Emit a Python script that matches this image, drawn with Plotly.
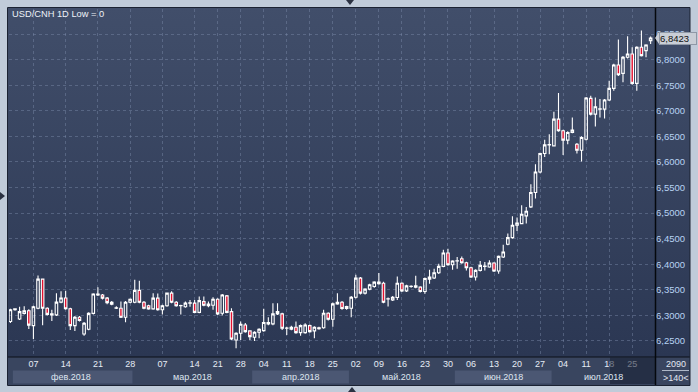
import base64
import plotly.graph_objects as go
import pandas as pd

# ---------------- data ----------------
title_text = "USD/CNH 1D Low = 0"

dates = (list(pd.date_range("2018-02-02", "2018-03-14", freq="D").strftime("%Y-%m-%d"))
         + list(pd.bdate_range("2018-03-15", "2018-07-31").strftime("%Y-%m-%d")))

open_ = [6.288, 6.311, 6.293, 6.304, 6.309, 6.280, 6.314, 6.371, 6.314, 6.301,
         6.301, 6.326, 6.334, 6.313, 6.280, 6.2964, 6.2638, 6.273, 6.304, 6.340,
         6.340, 6.3337, 6.3258, 6.314, 6.314, 6.2964, 6.3258, 6.3258, 6.349, 6.3258,
         6.319, 6.3128, 6.3337, 6.311, 6.319, 6.3435, 6.3258, 6.319, 6.317, 6.324,
         6.324, 6.306, 6.327, 6.322, 6.320, 6.3317, 6.3043, 6.3382, 6.3075, 6.252,
         6.265, 6.2814, 6.2697, 6.2573, 6.267, 6.2703, 6.2834, 6.2834, 6.3075, 6.303,
         6.2749, 6.273, 6.2768, 6.2664, 6.2664, 6.280, 6.2697, 6.276, 6.276, 6.3043,
         6.2925, 6.3226, 6.3258, 6.3173, 6.314, 6.3356, 6.3729, 6.3435, 6.3513, 6.3565,
         6.3618, 6.363, 6.3324, 6.3304, 6.335, 6.363, 6.348, 6.3565, 6.3552, 6.3552,
         6.3467, 6.371, 6.373, 6.3834, 6.3959, 6.422, 6.3991, 6.4063, 6.4109, 6.403,
         6.3932, 6.375, 6.388, 6.3959, 6.3946, 6.4024, 6.3867, 6.4141, 6.439, 6.452,
         6.4762, 6.4795, 6.4945, 6.5121, 6.5402, 6.5805, 6.6165, 6.6334, 6.6315, 6.6837,
         6.6609, 6.6426, 6.6576, 6.6347, 6.623, 6.6445, 6.7242, 6.6935, 6.7033, 6.7033,
         6.721, 6.7438, 6.7895, 6.7732, 6.8046, 6.8111, 6.7536, 6.8242, 6.8176, 6.8372]

high = [6.313, 6.314, 6.317, 6.318, 6.312, 6.319, 6.378, 6.372, 6.316, 6.311,
        6.3435, 6.347, 6.348, 6.315, 6.299, 6.299, 6.287, 6.306, 6.3435, 6.355,
        6.342, 6.336, 6.328, 6.318, 6.327, 6.328, 6.333, 6.3696, 6.368, 6.328,
        6.321, 6.3435, 6.343, 6.321, 6.345, 6.347, 6.328, 6.321, 6.327, 6.330,
        6.330, 6.337, 6.337, 6.327, 6.3356, 6.3335, 6.342, 6.340, 6.314, 6.267,
        6.288, 6.285, 6.271, 6.269, 6.275, 6.3128, 6.2964, 6.324, 6.324, 6.305,
        6.278, 6.280, 6.288, 6.282, 6.2847, 6.282, 6.279, 6.278, 6.311, 6.306,
        6.325, 6.3435, 6.328, 6.319, 6.338, 6.3794, 6.375, 6.353, 6.362, 6.367,
        6.3827, 6.366, 6.335, 6.338, 6.376, 6.365, 6.360, 6.359, 6.3774, 6.357,
        6.374, 6.3893, 6.3913, 6.4011, 6.4285, 6.4305, 6.408, 6.4141, 6.4154, 6.405,
        6.395, 6.390, 6.4063, 6.4043, 6.4076, 6.404, 6.417, 6.4383, 6.4599, 6.4938,
        6.4912, 6.5154, 6.5121, 6.5565, 6.5956, 6.618, 6.6432, 6.6543, 6.6981, 6.7347,
        6.663, 6.660, 6.687, 6.637, 6.650, 6.727, 6.7295, 6.7262, 6.7229, 6.723,
        6.7588, 6.792, 6.8392, 6.807, 6.8457, 6.8242, 6.826, 6.8568, 6.830, 6.845]

low = [6.285, 6.309, 6.291, 6.302, 6.2736, 6.254, 6.312, 6.281, 6.300, 6.289,
       6.299, 6.324, 6.311, 6.2716, 6.2697, 6.288, 6.260, 6.271, 6.302, 6.338,
       6.331, 6.322, 6.320, 6.3125, 6.295, 6.2866, 6.324, 6.324, 6.324, 6.312,
       6.311, 6.311, 6.309, 6.302, 6.317, 6.324, 6.317, 6.302, 6.315, 6.317,
       6.304, 6.304, 6.318, 6.316, 6.311, 6.301, 6.300, 6.304, 6.252, 6.2357,
       6.252, 6.266, 6.252, 6.250, 6.2553, 6.268, 6.281, 6.281, 6.301, 6.2716,
       6.2618, 6.271, 6.264, 6.260, 6.264, 6.266, 6.2553, 6.272, 6.274, 6.290,
       6.278, 6.321, 6.311, 6.311, 6.2964, 6.333, 6.341, 6.341, 6.349, 6.354,
       6.360, 6.324, 6.3173, 6.328, 6.330, 6.346, 6.346, 6.354, 6.353, 6.345,
       6.3423, 6.3619, 6.371, 6.381, 6.394, 6.397, 6.3893, 6.3913, 6.401, 6.388,
       6.373, 6.3684, 6.386, 6.388, 6.393, 6.385, 6.3815, 6.412, 6.437, 6.450,
       6.4651, 6.478, 6.4795, 6.510, 6.5284, 6.578, 6.6099, 6.6152, 6.630, 6.659,
       6.6138, 6.6347, 6.656, 6.6165, 6.6008, 6.642, 6.691, 6.6694, 6.687, 6.685,
       6.719, 6.7393, 6.768, 6.7556, 6.802, 6.751, 6.7393, 6.806, 6.8046, 6.8307]

close = [6.311, 6.313, 6.3075, 6.309, 6.281, 6.317, 6.371, 6.314, 6.302, 6.303,
         6.326, 6.334, 6.313, 6.280, 6.2964, 6.290, 6.2847, 6.304, 6.342, 6.342,
         6.3337, 6.325, 6.322, 6.315, 6.2964, 6.3258, 6.3317, 6.349, 6.3258, 6.314,
         6.3128, 6.3337, 6.311, 6.319, 6.3435, 6.3258, 6.319, 6.3195, 6.324, 6.3245,
         6.306, 6.329, 6.320, 6.319, 6.3317, 6.303, 6.340, 6.306, 6.254, 6.265,
         6.2827, 6.2684, 6.2586, 6.267, 6.273, 6.286, 6.286, 6.303, 6.303, 6.2749,
         6.2755, 6.2768, 6.2664, 6.280, 6.2814, 6.2684, 6.2768, 6.2742, 6.3043, 6.2925,
         6.3226, 6.3258, 6.3134, 6.3134, 6.3356, 6.3729, 6.3435, 6.3513, 6.3598, 6.365,
         6.365, 6.3258, 6.332, 6.3356, 6.363, 6.348, 6.3578, 6.357, 6.3578, 6.3467,
         6.3722, 6.375, 6.3834, 6.3959, 6.422, 6.3991, 6.4063, 6.4068, 6.403, 6.3932,
         6.375, 6.388, 6.3978, 6.3965, 6.4024, 6.3867, 6.4154, 6.424, 6.452, 6.4762,
         6.4808, 6.4977, 6.5036, 6.5402, 6.5805, 6.6165, 6.6334, 6.634, 6.6837, 6.6609,
         6.6426, 6.6576, 6.6622, 6.623, 6.6478, 6.7249, 6.6935, 6.7079, 6.7038, 6.721,
         6.7438, 6.7895, 6.7706, 6.8046, 6.8111, 6.7536, 6.8242, 6.8078, 6.8287, 6.8423]

tick_dates = ["2018-02-07", "2018-02-14", "2018-02-21", "2018-02-28",
              "2018-03-07", "2018-03-14", "2018-03-21", "2018-03-28",
              "2018-04-04", "2018-04-11", "2018-04-18", "2018-04-25",
              "2018-05-02", "2018-05-09", "2018-05-16", "2018-05-23", "2018-05-30",
              "2018-06-06", "2018-06-13", "2018-06-20", "2018-06-27",
              "2018-07-04", "2018-07-11", "2018-07-18", "2018-07-25"]
tick_labels = [d[8:10] for d in tick_dates]

month_keys = ["2018-02", "2018-03", "2018-04", "2018-05", "2018-06", "2018-07"]
month_labels = ["фев.2018", "мар.2018", "апр.2018", "май.2018", "июн.2018", "июл.2018"]

bars_total = "2090"
bars_visible = ">140<"

# ---------------- layout helpers ----------------
W, H = 698, 392
L, R, T, B = 9, 655, 9, 357
XR = [-0.3, 139.95]
YR = [6.2187, 6.899]


def px(x):
    return (x - L) / (R - L)


def py(y):
    return (B - y) / (B - T)


def ix(i):
    return (i - XR[0]) / (XR[1] - XR[0])


FONT = "Liberation Sans, Arial, sans-serif"
shapes = []
annotations = []


def label(x, y, text, size=9, color="#dfe6f0", xanchor="center", yanchor="middle", **kw):
    d = dict(xref="paper", yref="paper", x=x, y=y, text=text, showarrow=False,
             xanchor=xanchor, yanchor=yanchor,
             font=dict(family=FONT, size=size, color=color))
    d.update(kw)
    annotations.append(d)


# gradient background for chart body (svg image)
svg = ('<svg xmlns="http://www.w3.org/2000/svg" width="10" height="100" preserveAspectRatio="none">'
       '<defs><linearGradient id="g" x1="0" y1="0" x2="0" y2="1">'
       '<stop offset="0" stop-color="#414e6a"/><stop offset="1" stop-color="#2b3753"/>'
       '</linearGradient></defs><rect width="10" height="100" fill="url(#g)"/></svg>')
svg_src = "data:image/svg+xml;base64," + base64.b64encode(svg.encode()).decode()
images = [dict(source=svg_src, xref="paper", yref="paper", x=px(8), y=py(8),
               sizex=px(690) - px(8), sizey=py(8) - py(357), xanchor="left", yanchor="top",
               sizing="stretch", layer="below")]

# bottom axis area
shapes.append(dict(type="rect", xref="paper", yref="paper", layer="below",
                   x0=px(8), x1=px(690), y0=py(385), y1=py(B),
                   fillcolor="#39455f", line=dict(width=0)))
# month bands
for n, key in enumerate(month_keys):
    idxs = [i for i, d in enumerate(dates) if d.startswith(key)]
    a = max(0.0, ix(idxs[0] - 0.5))
    b = min(1.0, ix(idxs[-1] + 0.5))
    if n == len(month_keys) - 1:
        b = 1.0
    if n % 2 == 0:
        shapes.append(dict(type="rect", xref="paper", yref="paper", layer="below",
                           x0=a + 0.006 if n == 0 else a, x1=b, y0=py(383.5), y1=py(370.5),
                           fillcolor="#4b5773", line=dict(width=0)))
    label((a + b) / 2, py(377), month_labels[n])

# dark overlay at right of the time axis
shapes.append(dict(type="rect", xref="paper", yref="paper", layer="above",
                   x0=px(610), x1=px(655), y0=py(384), y1=py(357.5),
                   fillcolor="rgba(22,30,48,0.55)", line=dict(width=0)))
# separating lines
shapes.append(dict(type="line", xref="paper", yref="paper", layer="above",
                   x0=px(8), x1=px(690), y0=py(357), y1=py(357),
                   line=dict(color="#0c1018", width=1)))
shapes.append(dict(type="line", xref="paper", yref="paper", layer="above",
                   x0=px(655.5), x1=px(655.5), y0=py(385), y1=py(8),
                   line=dict(color="#05080d", width=1.5)))
# outer outline
shapes.append(dict(type="rect", xref="paper", yref="paper", layer="above",
                   x0=px(7.5), x1=px(690), y0=py(385.5), y1=py(7.5),
                   line=dict(color="#1b2232", width=1)))
# bars info box line
shapes.append(dict(type="line", xref="paper", yref="paper", layer="above",
                   x0=px(662), x1=px(689), y0=py(370.5), y1=py(370.5),
                   line=dict(color="#aeb8c8", width=1)))


def tri(pts):
    p = "M " + " L ".join("%f,%f" % (px(a), py(b)) for a, b in pts) + " Z"
    return dict(type="path", xref="paper", yref="paper", path=p, layer="above",
                fillcolor="#2b3242", line=dict(width=0))


shapes.append(tri([(346, 0), (354, 0), (350, 5)]))
shapes.append(tri([(0, 192), (0, 200), (5, 196)]))
shapes.append(tri([(348, 392), (356, 392), (352, 387)]))

# current price marker
last = close[-1]
shapes.append(dict(type="path", xref="paper", yref="y", xsizemode="pixel", ysizemode="pixel",
                   xanchor=1, yanchor=last, path="M 0,0 L 4,6 L 4,-6 Z",
                   fillcolor="#c9ced6", line=dict(width=0), layer="above"))
annotations.append(dict(xref="paper", yref="y", x=1, y=last, xanchor="left", yanchor="middle",
                        xshift=4, text=("%.4f" % last).replace(".", ","), showarrow=False,
                        bgcolor="#c9ced6", bordercolor="#8f98a6", borderwidth=1, borderpad=0,
                        width=36, align="left",
                        font=dict(family=FONT, size=9.5, color="#111111")))

# title and bar counters
label(px(10), py(14.5), title_text, size=9.3, color="#eef2f8", xanchor="left")
label(px(676), py(364), bars_total, color="#e2e8f2")
label(px(676), py(377.5), bars_visible, color="#e2e8f2")

fig = go.Figure(go.Candlestick(
    x=dates, open=open_, high=high, low=low, close=close,
    increasing=dict(line=dict(color="#ffffff", width=1.1), fillcolor="rgba(0,0,0,0)"),
    decreasing=dict(line=dict(color="#ffffff", width=1.1), fillcolor="#e3102f"),
    whiskerwidth=0, hoverinfo="skip", showlegend=False,
))

fig.update_layout(
    template="none",
    width=W, height=H,
    margin=dict(l=L, r=W - R, t=T, b=H - B, autoexpand=False),
    paper_bgcolor="#c0cbd9",
    plot_bgcolor="rgba(0,0,0,0)",
    separators=",.",
    boxgap=0.22,
    shapes=shapes,
    annotations=annotations,
    images=images,
    showlegend=False,
    xaxis=dict(type="category", range=XR, rangeslider=dict(visible=False), automargin=False,
               tickmode="array", tickvals=tick_dates, ticktext=tick_labels,
               showgrid=True, gridcolor="rgba(125,140,170,0.45)", griddash="3px,3px", gridwidth=1,
               ticks="", showline=False, zeroline=False,
               tickfont=dict(family=FONT, size=9, color="#e6ecf5")),
    yaxis=dict(side="right", range=YR, dtick=0.05, tick0=6.25, tickformat=".4f", automargin=False,
               showgrid=True, gridcolor="rgba(125,140,170,0.45)", griddash="3px,3px", gridwidth=1,
               ticks="", showline=False, zeroline=False,
               tickfont=dict(family=FONT, size=9.5, color="#b7d2f3")),
)

fig.write_html("out.html", config={"displayModeBar": False},
               post_script="document.body.style.margin='0';document.body.style.overflow='hidden';")
